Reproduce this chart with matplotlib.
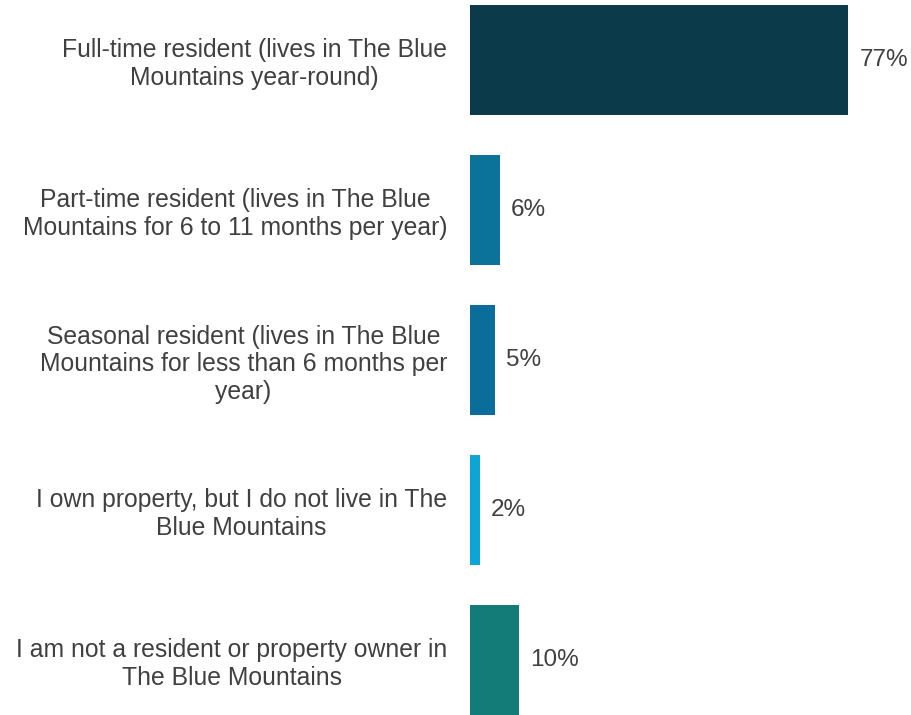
import matplotlib.pyplot as plt

# data
labels = [
    "Full-time resident (lives in The Blue\nMountains year-round)",
    "Part-time resident (lives in The Blue\nMountains for 6 to 11 months per year)",
    "Seasonal resident (lives in The Blue\nMountains for less than 6 months per\nyear)",
    "I own property, but I do not live in The\nBlue Mountains",
    "I am not a resident or property owner in\nThe Blue Mountains",
]
values = [77, 6, 5, 2, 10]
colors = ["#0B3A4B", "#0B7299", "#0B6E9A", "#0DA5D6", "#137C78"]

plt.rcParams['font.family'] = ['Liberation Sans', 'DejaVu Sans']
text_color = "#404040"

fig = plt.figure(figsize=(9.11, 7.15), dpi=100)
ax = fig.add_axes([0.516, 0.0, 0.484, 1.0])

y = list(range(len(values)))
ax.barh(y, values, height=0.733, color=colors)

for yi, v in zip(y, values):
    ax.text(v + 2.3, yi, f"{v}%", va="center", ha="left",
            fontsize=17.5, color=text_color)

ax.set_xlim(0, 89.8)
ax.set_ylim(4.367, -0.4)
ax.set_yticks(y)
ax.set_yticklabels(labels, fontsize=17.8, color=text_color,
                   multialignment="center", linespacing=1.2)
ax.tick_params(axis="y", length=0, pad=16.5)
ax.set_xticks([])
for s in ax.spines.values():
    s.set_visible(False)

fig.savefig("out.png", dpi=100)
